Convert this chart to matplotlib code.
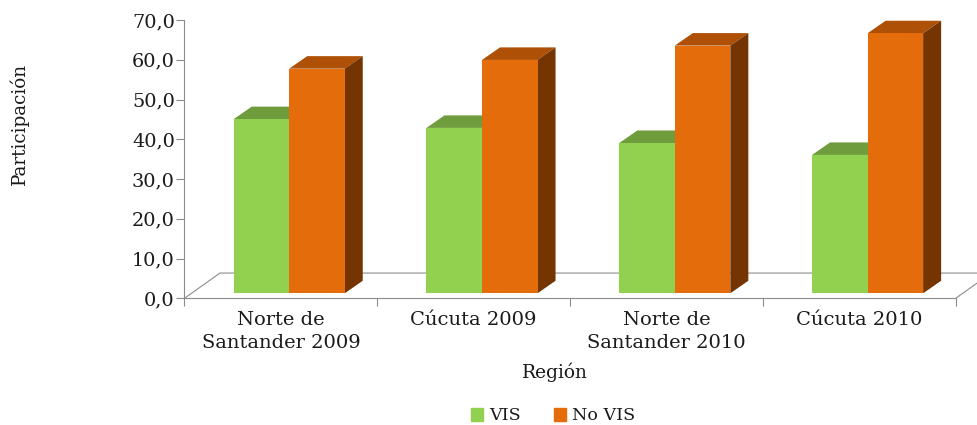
import numpy as np
import matplotlib
matplotlib.use('Agg')
import matplotlib.pyplot as plt
from matplotlib.patches import Polygon, Patch

regions = ['Norte de\nSantander 2009', 'Cúcuta 2009', 'Norte de\nSantander 2010', 'Cúcuta 2010']
vis = [43.8, 41.6, 37.8, 34.8]
no_vis = [56.5, 58.7, 62.3, 65.4]
yticks = [0, 10, 20, 30, 40, 50, 60, 70]

plt.rcParams['font.family'] = 'DejaVu Serif'
textColor = '#1a1a1a'
lineColor = '#8c8c8c'

# Axes placed on the pixel box of the original: x 184.5-955.7, y 20-298.3
W, H = 978, 425
fig = plt.figure(figsize=(W / 100, H / 100), dpi=100)
ax = fig.add_axes([184.5 / W, 1 - 298.3 / H, (955.7 - 184.5) / W, (298.3 - 20) / H])
ax.set_xlim(0, 4)
ax.set_ylim(0, 70)

# Sizes of the fake 3D effect, in data units
barWidth = 0.288
barStart = 0.255
depthX = 0.0935
depthY = 3.15
base = 1.26
floorX = 0.184
floorY = 6.35

def box(x, h, front, top, side):
    ax.bar(x, h, barWidth, bottom=base, align='edge', color=front, zorder=3)
    ax.add_patch(Polygon([(x, base + h), (x + depthX, base + h + depthY), (x + barWidth + depthX, base + h + depthY), (x + barWidth, base + h)], closed=True, color=top, lw=0, zorder=2.5))
    ax.add_patch(Polygon([(x + barWidth, base), (x + barWidth + depthX, base + depthY), (x + barWidth + depthX, base + h + depthY), (x + barWidth, base + h)], closed=True, color=side, lw=0, zorder=2.5))

# Floor of the chart
ax.plot([0, floorX, 4 + floorX], [0, floorY, floorY], color=lineColor, lw=0.8, clip_on=False, zorder=1)
ax.plot([4, 4 + floorX], [0, floorY], color=lineColor, lw=0.8, clip_on=False, zorder=1)

for i in range(len(regions)):
    box(i + barStart, vis[i], '#92D050', '#6F9D3D', '#557A2C')
    box(i + barStart + barWidth, no_vis[i], '#E46C0A', '#AE5006', '#743502')

ax.spines['top'].set_visible(False)
ax.spines['right'].set_visible(False)
for s in ['left', 'bottom']:
    ax.spines[s].set_color(lineColor)
    ax.spines[s].set_linewidth(0.8)
ax.patch.set_visible(False)

ax.set_yticks(yticks)
ax.set_yticklabels(['%d,0' % v for v in yticks], fontsize=13.9, color=textColor)
ax.set_xticks(range(5))
ax.set_xticklabels([])
ax.tick_params(axis='both', color=lineColor, length=6, width=0.8, pad=1)

for i, name in enumerate(regions):
    ax.annotate(name, xy=(i + 0.5, 0), xytext=(0, -13), textcoords='offset pixels', ha='center', va='top', fontsize=14, color=textColor, linespacing=1.33, annotation_clip=False)

fig.text(555 / W, 1 - 372 / H, 'Región', ha='center', va='center', fontsize=13.4, color=textColor)
fig.text(19 / W, 1 - 124 / H, 'Participación', ha='center', va='center', rotation=90, fontsize=13.2, color=textColor)

handles = [Patch(color='#92D050', label='VIS'), Patch(color='#E46C0A', label='No VIS')]
fig.legend(handles=handles, loc='center', bbox_to_anchor=(553 / W, 1 - 416 / H), ncol=2, frameon=False, fontsize=12.6, handlelength=0.7, handleheight=0.7, handletextpad=0.35, columnspacing=1.9, labelcolor=textColor, borderpad=0)

plt.savefig('out.png', dpi=100)
plt.close()
